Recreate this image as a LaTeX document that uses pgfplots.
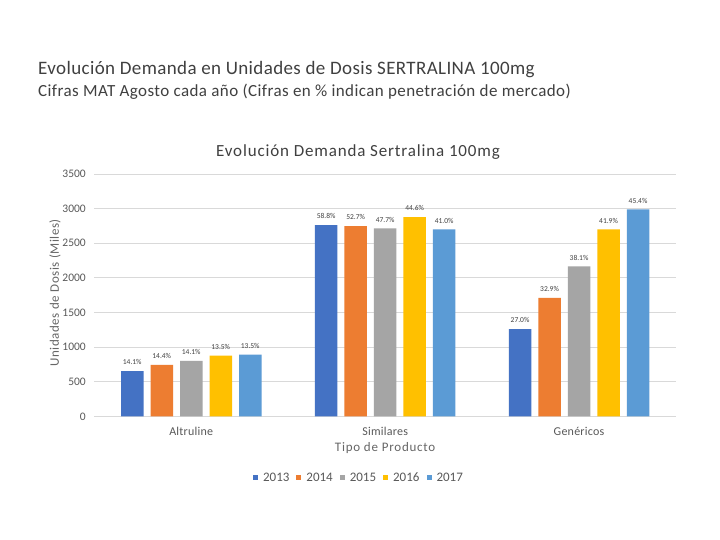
\documentclass[border=0pt]{standalone}
\usepackage{pgfplots}
\pgfplotsset{compat=1.18}
\usepackage{fontspec}
\setmainfont{Carlito}
\newfontfamily\lsa[LetterSpace=2]{Carlito}
\newfontfamily\lsb[LetterSpace=2.5]{Carlito}
\newfontfamily\lsc[LetterSpace=5]{Carlito}
\newfontfamily\lse[LetterSpace=4]{Carlito}
\newfontfamily\lsd[LetterSpace=6]{Carlito}
\definecolor{c13}{HTML}{4472C4}
\definecolor{c14}{HTML}{ED7D31}
\definecolor{c15}{HTML}{A5A5A5}
\definecolor{c16}{HTML}{FFC000}
\definecolor{c17}{HTML}{5B9BD5}
\definecolor{txt}{HTML}{595959}
\definecolor{lbl}{HTML}{666666}
\definecolor{tit}{HTML}{404040}
\definecolor{grd}{HTML}{D9D9D9}
\begin{document}
\begin{tikzpicture}[x=1pt,y=1pt]
\path[fill=white] (0,0) rectangle (720,540);
\node[anchor=base west, text=tit, inner sep=0, font=\lsa\fontsize{19}{22}\selectfont] at (38,465) {Evolución Demanda en Unidades de Dosis SERTRALINA 100mg};
\node[anchor=base west, text=tit, inner sep=0, font=\lsb\fontsize{17}{20}\selectfont] at (38,443) {Cifras MAT Agosto cada año (Cifras en \% indican penetración de mercado)};
\node[anchor=base, text=tit, inner sep=0, font=\lsc\fontsize{17}{20}\selectfont] at (358,383) {Evolución Demanda Sertralina 100mg};
\begin{axis}[
  at={(94.3pt,123.6pt)}, anchor=south west,
  scale only axis, width=581.7pt, height=242.4pt,
  ybar, bar width=22.5pt,
  xmin=-0.5, xmax=2.5, ymin=0, ymax=3500,
  ytick={0,500,...,3500},
  xtick={0,1,2}, xticklabels={Altruline,Similares,Genéricos},
  axis line style={draw=none},
  major tick length=0pt,
  ymajorgrids, grid style={grd, line width=0.8pt},
  ticklabel style={text=txt},
  yticklabel style={font=\fontsize{11.5}{13}\selectfont, xshift=-5pt},
  xticklabel style={font=\lsa\fontsize{12}{14}\selectfont, yshift=-7pt},
  /pgf/number format/assume math mode=true,
  /pgf/number format/set thousands separator={},
  xlabel={Tipo de Producto}, ylabel={Unidades de Dosis (Miles)},
  every axis x label/.style={at={(axis description cs:0.5,-0.131)}, anchor=center, text=lbl, font=\lsd\fontsize{13}{15}\selectfont},
  every axis y label/.style={at={(axis description cs:-0.0676,0.51)}, anchor=center, rotate=90, text=lbl, font=\lse\fontsize{13}{15}\selectfont},
  point meta=explicit symbolic,
  nodes near coords={\pgfplotspointmeta\%},
  every node near coord/.append style={text=tit, font=\fontsize{7.5}{9}\selectfont, inner sep=0pt, anchor=south, yshift=6pt},
  legend style={at={(0.455,-0.254)}, anchor=center, draw=none, fill=none, legend columns=-1,
    font=\fontsize{13}{15}\selectfont, text=txt,
    /tikz/every odd column/.append style={column sep=3pt},
    /tikz/every even column/.append style={column sep=5pt}},
  legend image code/.code={\fill[#1] (0pt,-2.5pt) rectangle (5pt,2.5pt);},
]
\addplot[fill=c13, draw=none, bar shift=-59pt] coordinates {(0,654)[14.1] (1,2762)[58.8] (2,1259)[27.0]};
\addplot[fill=c14, draw=none, bar shift=-29.5pt] coordinates {(0,745)[14.4] (1,2748)[52.7] (2,1710)[32.9]};
\addplot[fill=c15, draw=none, bar shift=0pt] coordinates {(0,801)[14.1] (1,2715)[47.7] (2,2167)[38.1]};
\addplot[fill=c16, draw=none, bar shift=29.5pt] coordinates {(0,877)[13.5] (1,2878)[44.6] (2,2700)[41.9]};
\addplot[fill=c17, draw=none, bar shift=59pt] coordinates {(0,892)[13.5] (1,2700)[41.0] (2,2988)[45.4]};
\legend{2013,2014,2015,2016,2017}
\end{axis}
\end{tikzpicture}
\end{document}
